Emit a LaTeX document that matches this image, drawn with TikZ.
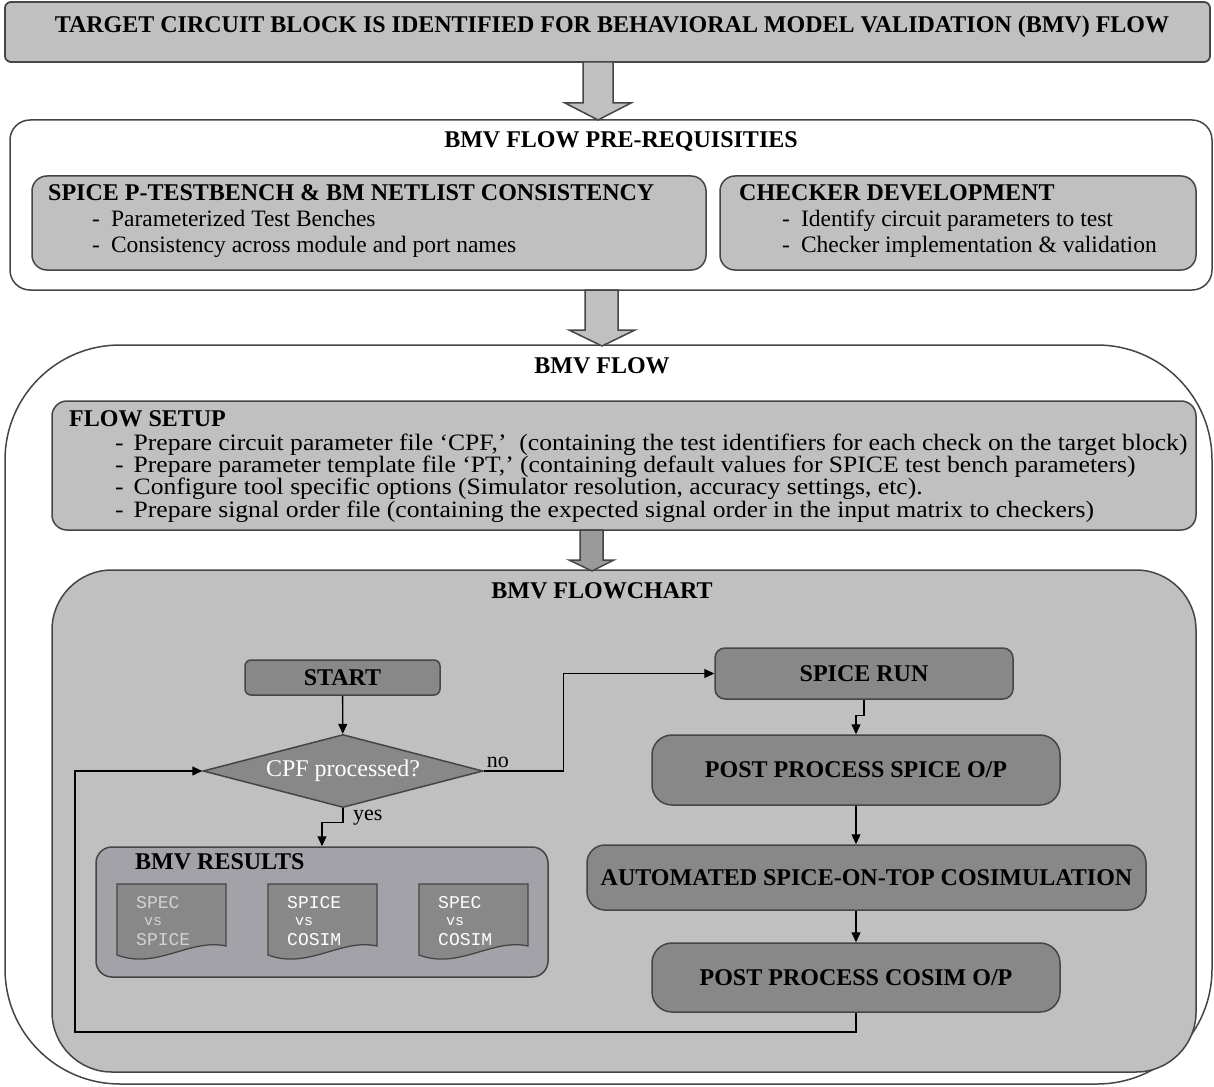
\documentclass[tikz,border=0pt]{standalone}
\usepackage{fontspec}
\setmainfont{Liberation Serif}
\setmonofont{Liberation Mono}
\usepackage{xcolor}
\usetikzlibrary{shapes.geometric,arrows.meta,positioning}

\definecolor{panelgray}{HTML}{C0C0C0}
\definecolor{nodegray}{HTML}{888888}
\definecolor{resultgray}{HTML}{A2A2A8}
\definecolor{edgegray}{HTML}{454545}
\definecolor{arrowgray}{HTML}{9A9A9A}
\definecolor{docfaint}{HTML}{D2D2D2}

\begin{document}
\begin{tikzpicture}[x=1pt, y=-1pt, font=\fontsize{23.5}{26}\selectfont]
    % Define styles
    \tikzstyle{banner} = [rectangle, draw=edgegray, line width=1.8pt, fill=panelgray, rounded corners=6pt]
    \tikzstyle{frame} = [rectangle, draw=edgegray, line width=1.5pt, fill=white]
    \tikzstyle{panel} = [rectangle, draw=edgegray, line width=1.5pt, fill=panelgray, rounded corners=15pt]
    \tikzstyle{stepbox} = [rectangle, draw=edgegray, line width=1.5pt, fill=nodegray, font=\fontsize{24}{26}\selectfont\bfseries, rounded corners=10pt]
    \tikzstyle{decision} = [diamond, draw=edgegray, line width=1.5pt, fill=nodegray, text=white, aspect=3.8, inner sep=0pt]
    \tikzstyle{heading} = [font=\fontsize{24}{26}\selectfont\bfseries]
    \tikzstyle{bullets} = [align=left, anchor=west, inner sep=0pt]
    \tikzstyle{fatarrow} = [draw=edgegray, line width=1.5pt, fill=panelgray]
    \tikzstyle{flowline} = [line width=1.3pt, -{Triangle[length=10pt,width=9pt]}]
    \tikzstyle{doctext} = [anchor=west, inner sep=0pt, font=\ttfamily\fontsize{18}{18}\selectfont]

    \useasboundingbox (0,0) rectangle (1214,1086);

    % Target block
    \node [banner, minimum width=1205pt, minimum height=60pt] (target) at (607.5,32) {};
    \node [heading] (targettext) at (612,27) {TARGET CIRCUIT BLOCK IS IDENTIFIED FOR BEHAVIORAL MODEL VALIDATION (BMV) FLOW};

    % Pre-requisites
    \node [frame, rounded corners=20pt, minimum width=1202pt, minimum height=170pt] (prereq) at (611,205) {};
    \node [heading] (prereqtitle) at (621,142) {BMV FLOW PRE-REQUISITIES};
    \node [panel, minimum width=674pt, minimum height=94pt] (netlist) at (369,223) {};
    \node [heading, anchor=west, inner sep=0pt] (netlisttitle) at (48,193) {SPICE P-TESTBENCH \& BM NETLIST CONSISTENCY};
    \node [bullets] (netlistitems) at (92,234) {-\hspace{11pt}Parameterized Test Benches\\-\hspace{11pt}Consistency across module and port names};
    \node [panel, minimum width=476pt, minimum height=94pt] (checker) at (958,223) {};
    \node [heading, anchor=west, inner sep=0pt] (checkertitle) at (739,193) {CHECKER DEVELOPMENT};
    \node [bullets] (checkeritems) at (782,234) {-\hspace{11pt}Identify circuit parameters to test\\-\hspace{11pt}Checker implementation \& validation};

    % BMV flow
    \node [frame, rounded corners=115pt, minimum width=1207pt, minimum height=739pt] (flow) at (608.5,714.5) {};
    \node [heading] (flowtitle) at (602,366) {BMV FLOW};
    \node [panel, minimum width=1144pt, minimum height=129pt] (setup) at (624,465.5) {};
    \node [heading, anchor=west, inner sep=0pt] (setuptitle) at (69,419) {FLOW SETUP};
    \node [bullets, font=\fontsize{23.5}{22.4}\selectfont\addfontfeature{FakeStretch=1.09}] (setupitems) at (115,478) {-\hspace{10pt}Prepare circuit parameter file `CPF,'~ (containing the test identifiers for each check on the target block)\\-\hspace{10pt}Prepare parameter template file `PT,' (containing default values for SPICE test bench parameters)\\-\hspace{10pt}Configure tool specific options (Simulator resolution, accuracy settings, etc).\\-\hspace{10pt}Prepare signal order file (containing the expected signal order in the input matrix to checkers)};

    % Flowchart
    \node [panel, rounded corners=60pt, minimum width=1144pt, minimum height=502pt] (chart) at (624,821) {};
    \node [heading] (charttitle) at (602,591) {BMV FLOWCHART};

    % Block arrows
    \draw [fatarrow] (583,62) -- (583,103) -- (565,103) -- (598,120) -- (631,103) -- (613,103) -- (613,62) -- cycle;
    \draw [fatarrow] (585,290) -- (585,330) -- (569,330) -- (602,346) -- (635,330) -- (618,330) -- (618,290) -- cycle;
    \draw [fatarrow, fill=arrowgray] (580,530) -- (580,560) -- (569,560) -- (592,571) -- (614,560) -- (603,560) -- (603,530) -- cycle;

    % Left column
    \node [stepbox, rounded corners=6pt, minimum width=195pt, minimum height=35pt] (start) at (342.5,677.5) {START};
    \node [decision, font=\fontsize{24}{26}\selectfont, minimum width=280pt, minimum height=73pt] (cpf) at (343,771) {CPF processed?};
    \node [rectangle, draw=edgegray, line width=1.5pt, fill=resultgray, rounded corners=16pt, minimum width=452pt, minimum height=130pt] (results) at (322,912) {};
    \node [heading, anchor=west, inner sep=0pt] (resultstitle) at (135,862) {BMV RESULTS};

    % Result documents
    \foreach \i/\x/\first/\last/\ink in {1/117/SPEC/SPICE/docfaint, 2/268/SPICE/COSIM/white, 3/419/SPEC/COSIM/white} {
        \filldraw [fill=nodegray, draw=edgegray, line width=1.3pt] (\x,884) -- (\x+109,884) -- (\x+109,946) .. controls (\x+73,938) and (\x+40,970) .. (\x,955) -- cycle;
        \node [doctext, text=\ink] (doc\i top) at (\x+19,903) {\first};
        \node [doctext, text=\ink, font=\ttfamily\fontsize{15}{15}\selectfont] (doc\i vs) at (\x+27,922) {vs};
        \node [doctext, text=\ink] (doc\i bottom) at (\x+19,940) {\last};
    }

    % Right column
    \node [stepbox, minimum width=298pt, minimum height=51pt] (spice) at (864,673.5) {SPICE RUN};
    \node [stepbox, rounded corners=20pt, minimum width=408pt, minimum height=70pt] (postspice) at (856,770) {POST PROCESS SPICE O/P};
    \node [stepbox, rounded corners=18pt, minimum width=559pt, minimum height=65pt] (cosim) at (866.5,877.5) {AUTOMATED SPICE-ON-TOP COSIMULATION};
    \node [stepbox, rounded corners=20pt, minimum width=408pt, minimum height=69pt] (postcosim) at (856,977.5) {POST PROCESS COSIM O/P};
    \coordinate (loopcorner) at (75,1032);

    % Arrows
    \draw [flowline] (start) -- (cpf);
    \draw [flowline] (cpf.east) -- ++(80,0) |- (spice.west);
    \draw [flowline] (cpf.south) -- ++(0,14) -| (results.north);
    \draw [flowline] (spice.south) -- ++(0,16) -| (postspice.north);
    \draw [flowline] (postspice) -- (postspice |- cosim.north);
    \draw [flowline] (cosim.south -| postspice) -- (postcosim);
    \draw [flowline] (postcosim.south) |- (loopcorner) |- (cpf.west);

    % Branch labels
    \node [anchor=south west, inner sep=3pt, font=\fontsize{22}{24}\selectfont] (nolabel) at (cpf.east) {no};
    \node [anchor=north west, inner sep=2pt, xshift=8pt, font=\fontsize{22}{24}\selectfont] (yeslabel) at (cpf.south) {yes};
\end{tikzpicture}
\end{document}
